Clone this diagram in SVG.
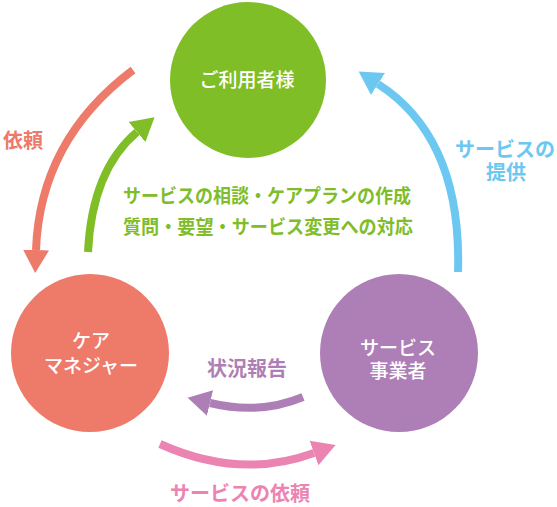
<svg xmlns="http://www.w3.org/2000/svg" width="557" height="507" viewBox="0 0 557 507">
<style>
text{font-family:"Noto Sans CJK JP","Noto Sans",sans-serif;font-weight:700;text-anchor:middle}
.nt{fill:#fff;font-size:19px;font-weight:500}
.lb{font-size:20px}
.gt{font-size:19px;fill:#7fbd2a}
.ln{fill:none;stroke-width:8}
</style>
<defs>
<marker id="hr" markerUnits="userSpaceOnUse" markerWidth="30" markerHeight="30" refX="0" refY="14" orient="auto" viewBox="0 0 30 30"><path d="M0,1 L23,14 L0,27 Z" fill="#ee7a6a"/></marker>
<marker id="hg" markerUnits="userSpaceOnUse" markerWidth="30" markerHeight="30" refX="0" refY="14" orient="auto" viewBox="0 0 30 30"><path d="M0,1 L23,14 L0,27 Z" fill="#80be28"/></marker>
<marker id="hb" markerUnits="userSpaceOnUse" markerWidth="30" markerHeight="30" refX="0" refY="14" orient="auto" viewBox="0 0 30 30"><path d="M0,1 L23,14 L0,27 Z" fill="#6cc8f0"/></marker>
<marker id="hp" markerUnits="userSpaceOnUse" markerWidth="30" markerHeight="30" refX="0" refY="14" orient="auto" viewBox="0 0 30 30"><path d="M0,1 L23,14 L0,27 Z" fill="#ae7fb6"/></marker>
<marker id="hk" markerUnits="userSpaceOnUse" markerWidth="30" markerHeight="30" refX="0" refY="14" orient="auto" viewBox="0 0 30 30"><path d="M0,1 L23,14 L0,27 Z" fill="#ec84b2"/></marker>
</defs>
<rect width="557" height="507" fill="#fff"/>
<g id="connectors">
<path class="ln" stroke="#ee7a6a" d="M133,70 Q40,140 36,250" marker-end="url(#hr)"/>
<path class="ln" stroke="#80be28" d="M88,252 Q92,170 137,132" marker-end="url(#hg)"/>
<path class="ln" stroke="#6cc8f0" d="M458,272 Q462,138 378,84" marker-end="url(#hb)"/>
<path class="ln" stroke="#ae7fb6" d="M303,397 Q260,415 210,403" marker-end="url(#hp)"/>
<path class="ln" stroke="#ec84b2" d="M160,444 Q240,480 314,453" marker-end="url(#hk)"/>
<text class="lb" x="23" y="148" fill="#ee7a6a">依頼</text>
<text class="gt" x="267" y="203" textLength="288" lengthAdjust="spacingAndGlyphs">サービスの相談・ケアプランの作成</text>
<text class="gt" x="268" y="234" textLength="290" lengthAdjust="spacingAndGlyphs">質問・要望・サービス変更への対応</text>
<text class="lb" x="505" y="157" fill="#6cc8f0">サービスの</text>
<text class="lb" x="506" y="180" fill="#6cc8f0">提供</text>
<text class="lb" x="247" y="376" fill="#ae7fb6">状況報告</text>
<text class="lb" x="240" y="501" fill="#ec84b2">サービスの依頼</text>
</g>
<g id="user">
<circle cx="248" cy="80" r="78" fill="#80be28"/>
<text class="nt" x="247" y="87">ご利用者様</text>
</g>
<g id="caremanager">
<circle cx="90" cy="353" r="79" fill="#ee7a6a"/>
<text class="nt" x="91" y="348">ケア</text>
<text class="nt" x="91" y="373">マネジャー</text>
</g>
<g id="provider">
<circle cx="399" cy="353" r="79" fill="#ae7fb6"/>
<text class="nt" x="398" y="355">サービス</text>
<text class="nt" x="398" y="378">事業者</text>
</g>
</svg>
